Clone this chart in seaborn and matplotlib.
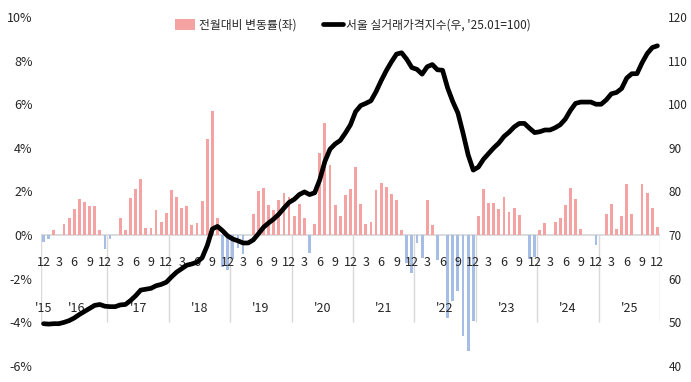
import numpy as np
import pandas as pd
import matplotlib
matplotlib.use("Agg")
import matplotlib.pyplot as plt
import seaborn as sns
from matplotlib.patches import Patch
from matplotlib.lines import Line2D
from matplotlib import font_manager

# ===== DATA: Dec 2015 ~ Dec 2025, monthly =====
# 전월대비 변동률 (%)
mom_2015 = [-0.30]
mom_2016 = [-0.20, 0.23, 0.00, 0.50, 0.80, 1.20, 1.65, 1.50, 1.35, 1.35, 0.25, -0.65]
mom_2017 = [-0.20, 0.00, 0.80, 0.25, 1.70, 2.10, 2.55, 0.32, 0.32, 1.15, 0.62, 1.00]
mom_2018 = [2.08, 1.77, 1.24, 1.33, 0.47, 0.57, 1.58, 4.40, 5.68, 0.78, -1.45, -1.60]
mom_2019 = [-1.10, -0.60, -0.85, 0.00, 0.97, 2.03, 2.16, 1.39, 1.15, 1.60, 1.93, 1.73]
mom_2020 = [0.89, 1.42, 0.80, -0.83, 0.53, 3.75, 5.13, 3.23, 1.38, 0.86, 1.85, 2.10]
mom_2021 = [3.14, 1.42, 0.53, 0.58, 2.07, 2.41, 2.22, 1.90, 1.61, 0.24, -1.30, -1.75]
mom_2022 = [-0.35, -1.05, 1.60, 0.47, -1.13, 0.00, -3.80, -3.03, -2.57, -4.64, -5.33, -3.95]
mom_2023 = [0.87, 2.10, 1.46, 1.46, 1.18, 1.73, 1.07, 1.26, 0.92, 0.00, -1.10, -1.00]
mom_2024 = [0.22, 0.55, 0.00, 0.60, 0.80, 1.37, 2.14, 1.65, 0.27, 0.00, 0.00, -0.45]
mom_2025 = [0.00, 0.96, 1.41, 0.27, 0.89, 2.33, 0.98, 0.00, 2.33, 1.94, 1.26, 0.38]

# 서울 실거래가격지수 ('25.01=100)
idx_2015 = [49.7]
idx_2016 = [49.6, 49.7, 49.7, 50.0, 50.4, 51.0, 51.8, 52.5, 53.2, 53.9, 54.1, 53.7]
idx_2017 = [53.6, 53.6, 54.0, 54.1, 55.0, 56.1, 57.4, 57.6, 57.8, 58.4, 58.7, 59.2]
idx_2018 = [60.4, 61.5, 62.3, 63.1, 63.4, 63.8, 64.8, 67.6, 71.4, 72.0, 71.0, 69.8]
idx_2019 = [69.1, 68.7, 68.2, 68.2, 68.9, 70.3, 71.8, 72.8, 73.7, 74.8, 76.2, 77.5]
idx_2020 = [78.2, 79.3, 79.9, 79.3, 79.7, 82.7, 86.9, 89.7, 90.9, 91.7, 93.4, 95.3]
idx_2021 = [98.3, 99.7, 100.2, 100.8, 102.9, 105.4, 107.7, 109.7, 111.5, 111.8, 110.3, 108.4]
idx_2022 = [108.0, 106.9, 108.6, 109.1, 107.9, 107.8, 103.7, 100.6, 98.0, 93.4, 88.4, 84.9]
idx_2023 = [85.6, 87.4, 88.7, 90.0, 91.1, 92.6, 93.6, 94.8, 95.6, 95.6, 94.5, 93.5]
idx_2024 = [93.7, 94.1, 94.1, 94.6, 95.3, 96.6, 98.6, 100.2, 100.5, 100.5, 100.5, 100.0]
idx_2025 = [100.0, 101.0, 102.4, 102.7, 103.6, 106.0, 107.0, 107.0, 109.5, 111.6, 113.0, 113.4]

years = ["'15", "'16", "'17", "'18", "'19", "'20", "'21", "'22", "'23", "'24", "'25"]
month_nums = [12] + list(range(1, 13)) * 10

bar_label = "전월대비 변동률(좌)"
line_label = "서울 실거래가격지수(우, '25.01=100)"

mom = np.array(mom_2015 + mom_2016 + mom_2017 + mom_2018 + mom_2019 + mom_2020
               + mom_2021 + mom_2022 + mom_2023 + mom_2024 + mom_2025)
idx = np.array(idx_2015 + idx_2016 + idx_2017 + idx_2018 + idx_2019 + idx_2020
               + idx_2021 + idx_2022 + idx_2023 + idx_2024 + idx_2025)
pos = np.arange(len(mom))

df = pd.DataFrame({"pos": pos, "mom": mom, "idx": idx,
                   "sign": np.where(mom >= 0, "up", "down")})

# ===== STYLE =====
PINK = "#F4A2A2"
BLUE = "#A6BDE6"
GRID = "#D9D9D9"
TXT = "#262626"

sns.set_style("white")
plt.rcParams["font.family"] = ["Noto Sans CJK KR", "DejaVu Sans"]
plt.rcParams["axes.unicode_minus"] = False

# narrow face for numbers if there is one
installed = {f.name for f in font_manager.fontManager.ttflist}
NUM_FONT = ["Liberation Sans Narrow"] if "Liberation Sans Narrow" in installed else ["Noto Sans CJK KR"]
NUM_SIZE = 10 if NUM_FONT[0] == "Liberation Sans Narrow" else 9

fig = plt.figure(figsize=(6.91, 3.82), dpi=100)
ax = fig.add_axes([0.0593, 0.0419, 0.8958, 0.9136])

# bars
sns.barplot(data=df, x="pos", y="mom", hue="sign",
            palette={"up": PINK, "down": BLUE}, dodge=False, width=0.55,
            saturation=1, legend=False, ax=ax, zorder=2, linewidth=0)
ax.axhline(0, color=GRID, lw=1.3, zorder=1)

ax.set_xlim(-0.5, 120.5)
ax.set_ylim(-6, 10)
ax.set_yticks(range(-6, 11, 2))
ax.set_yticklabels([f"{v}%" for v in range(-6, 11, 2)], family=NUM_FONT)
ax.set_xticks([])
ax.set_xlabel("")
ax.set_ylabel("")
ax.tick_params(axis="y", length=0, pad=6, labelsize=NUM_SIZE, labelcolor=TXT)
sns.despine(ax=ax, left=True, bottom=True)

# month labels every 3 months, year labels below
for i in range(0, len(pos), 3):
    ax.text(i, -1.27, str(month_nums[i]), ha="center", va="center",
            fontsize=NUM_SIZE, color=TXT, family=NUM_FONT)
ax.text(0, -3.38, years[0], ha="center", va="center", fontsize=NUM_SIZE,
        color=TXT, family=NUM_FONT)
for k, y in enumerate(years[1:]):
    ax.text(6.5 + 12 * k, -3.38, y, ha="center", va="center",
            fontsize=NUM_SIZE, color=TXT, family=NUM_FONT)
seps = [-0.5] + [12.5 + 12 * k for k in range(10)]
ax.vlines(seps, -4.0, 0, color=GRID, lw=1, zorder=1)

# line on right axis
ax2 = ax.twinx()
sns.lineplot(data=df, x="pos", y="idx", ax=ax2, color="black", lw=3.4,
             solid_joinstyle="round", solid_capstyle="round")
ax2.set_xlim(-0.5, 120.5)
ax2.set_ylim(40, 120)
ax2.set_yticks(range(40, 121, 10))
ax2.set_yticklabels([str(v) for v in range(40, 121, 10)], family=NUM_FONT)
ax2.set_ylabel("")
ax2.set_xlabel("")
ax2.tick_params(axis="y", length=0, pad=6, labelsize=NUM_SIZE - 0.5, labelcolor=TXT)
sns.despine(ax=ax2, left=True, bottom=True, right=True)

# legend
handles = [Patch(facecolor=PINK, edgecolor="none"),
           Line2D([0], [0], color="black", lw=3.4)]
fig.legend(handles, [bar_label, line_label], loc="center",
           bbox_to_anchor=(0.511, 0.935), ncol=2, frameon=False,
           fontsize=8.5, handlelength=1.7, handleheight=1.0,
           handletextpad=0.3, columnspacing=2.2, labelcolor=TXT)

fig.savefig("out.png", dpi=100)
